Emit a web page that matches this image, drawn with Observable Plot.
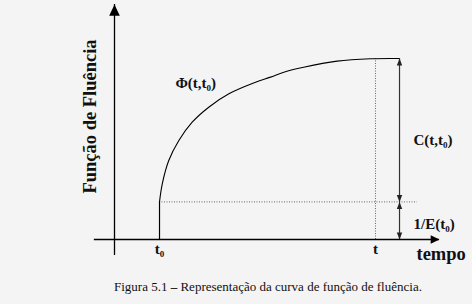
<!DOCTYPE html>
<html><head><meta charset="utf-8">
<script src="https://cdn.jsdelivr.net/npm/d3@7"></script>
<script src="https://cdn.jsdelivr.net/npm/@observablehq/plot@0.6"></script>
<style>
html,body{margin:0;padding:0;background:#f4f4f4;}
#caption{font-family:"Liberation Serif","Times New Roman",Times,"DejaVu Serif",serif;font-size:13px;line-height:22px;padding-left:114px;color:#111;white-space:nowrap;}
</style></head><body>
<div id="chart"></div>
<div id="caption">Figura 5.1 <b>–</b> Representação da curva de função de fluência.</div>
<script>
// ---- data (abstract units) ----
const curveTime  = [13.85, 14.7, 16.7, 19.8, 23.9, 29.0, 35.2, 43.4, 48.0, 52.1, 58.2, 68.5, 78.8, 87.7];
const curveValue = [16.0, 23.7, 33.6, 42.1, 49.9, 56.3, 62.0, 66.9, 69.1, 71.2, 73.3, 75.9, 76.9, 77.0];
const t0 = 13.85;          // loading time
const tObs = 80.3;         // observation time t
const dimX = 87.7;         // position of the dimension arrows
const dottedEnd = 93.2;    // end of the dotted 1/E line
const elastic = 16.0;      // 1/E(t0)
const total = 77.0;        // Φ(t,t0)
const xAxisExtent = [-6.2, 100];
const yAxisExtent = [-6.8, 100];
const tickLabels = ["t₀", "t"];
const seriesLabel = "Φ(t,t₀)";
const creepLabel = "C(t,t₀)";
const elasticLabel = "1/E(t₀)";
const xTitle = "tempo";
const yTitle = "Função de Fluência";

const curve = curveTime.map((x, i) => ({x, y: curveValue[i]}));

function arrowHead(ratio) {
  return {draw(ctx, size) {
    const w = Math.sqrt(size / Math.PI), h = w * ratio;
    ctx.moveTo(0, 0); ctx.lineTo(w, h); ctx.lineTo(-w, h); ctx.closePath();
  }};
}
const serif = "'Liberation Serif', 'Times New Roman', Times, 'DejaVu Serif', serif";
const bigHead = arrowHead(2.1), smallHead = arrowHead(2.6);
const dotted = {stroke: "#666", strokeWidth: 1, strokeDasharray: "1,1.5"};
const lbl = {fontFamily: serif, fontWeight: "bold", fontSize: 15, fill: "#111"};

const chart = Plot.plot({
  width: 472, height: 276,
  marginLeft: 114, marginRight: 33, marginTop: 4, marginBottom: 37,
  x: {domain: [0, 100], axis: null},
  y: {domain: [0, 100], axis: null},
  style: {background: "transparent", fontFamily: serif},
  marks: [
    // dotted guides
    Plot.ruleY([elastic], {x1: t0, x2: dottedEnd, ...dotted}),
    Plot.ruleX([tObs], {y1: 0, y2: total, ...dotted}),
    // axes
    Plot.ruleY([0], {x1: xAxisExtent[0], x2: xAxisExtent[1], stroke: "#000", strokeWidth: 1.3}),
    Plot.ruleX([0], {y1: yAxisExtent[0], y2: yAxisExtent[1], stroke: "#000", strokeWidth: 1.3}),
    Plot.dot([xAxisExtent[1]], {x: d => d, y: () => 0, symbol: bigHead, r: 4.2, rotate: 90, fill: "#000", stroke: "none"}),
    Plot.dot([yAxisExtent[1]], {x: () => 0, y: d => d, symbol: bigHead, r: 5.3, fill: "#000", stroke: "none"}),
    // instantaneous step at t0
    Plot.ruleX([t0], {y1: 0, y2: elastic, stroke: "#000", strokeWidth: 1.2}),
    // creep curve
    Plot.line(curve, {x: "x", y: "y", curve: "catmull-rom", stroke: "#000", strokeWidth: 1.1}),
    // dimension arrows
    Plot.ruleX([dimX], {y1: 0, y2: total, stroke: "#333", strokeWidth: 1.2}),
    Plot.dot([total, elastic], {x: () => dimX, y: d => d, symbol: smallHead, r: 2.7, fill: "#222", stroke: "none"}),
    Plot.dot([elastic, 0], {x: () => dimX, y: d => d, symbol: smallHead, r: 2.7, rotate: 180, fill: "#222", stroke: "none"}),
    // labels
    Plot.text([t0, tObs], {x: d => d, y: () => 0, text: (d, i) => tickLabels[i], dy: 10, ...lbl}),
    Plot.text([curve[5]], {x: "x", y: "y", text: () => seriesLabel, dx: -13, dy: -24, ...lbl}),
    Plot.text([(total + elastic) / 2], {x: () => dimX, y: d => d, text: () => creepLabel, textAnchor: "start", dx: 14, dy: 10, ...lbl}),
    Plot.text([elastic / 2], {x: () => dimX, y: d => d, text: () => elasticLabel, textAnchor: "start", dx: 14, dy: 3, ...lbl}),
    Plot.text([xAxisExtent[1]], {x: d => d, y: () => 0, text: () => xTitle, textAnchor: "start", dx: -23, dy: 15, ...lbl, fontSize: 18.5}),
    Plot.text([yTitle], {frameAnchor: "left", text: d => d, textAnchor: "middle", rotate: -90, dx: -24, dy: -5.5, ...lbl, fontSize: 18.5})
  ]
});
document.getElementById("chart").appendChild(chart);
</script>
</body></html>
